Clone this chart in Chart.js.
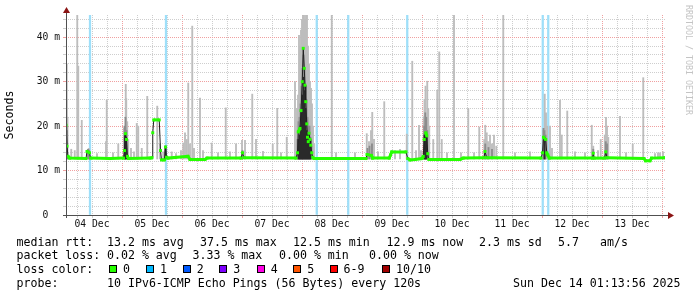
<!DOCTYPE html>
<html><head><meta charset="utf-8">
<script src="https://cdn.jsdelivr.net/npm/chart.js@4/dist/chart.umd.min.js"></script>
<style>
html,body{margin:0;padding:0;background:#fff;}
#wrap{position:relative;width:697px;height:297px;overflow:hidden;background:#fff;}
#c{position:absolute;left:0;top:0;}
.t{position:absolute;font-family:'DejaVu Sans Mono',monospace;font-size:11.6px;line-height:14px;white-space:pre;color:#000;}
.b{position:absolute;width:6px;height:6px;border:1px solid #000;top:265px;}
#wm{position:absolute;left:684px;top:5px;writing-mode:vertical-rl;font-family:'DejaVu Sans Mono',monospace;font-size:8.3px;line-height:9px;color:#c4c4c4;white-space:pre;}
</style></head><body>
<div id="wrap">
<canvas id="c" width="697" height="297"></canvas>
<div id="wm">RRDTOOL / TOBI OETIKER</div>

<span class="t" style="left:16.5px;top:234.5px">median rtt:</span>
<span class="t" style="left:107px;top:234.5px">13.2 ms avg</span>
<span class="t" style="left:200px;top:234.5px">37.5 ms max</span>
<span class="t" style="left:293px;top:234.5px">12.5 ms min</span>
<span class="t" style="left:386.5px;top:234.5px">12.9 ms now</span>
<span class="t" style="left:479px;top:234.5px">2.3 ms sd</span>
<span class="t" style="left:558px;top:234.5px">5.7</span>
<span class="t" style="left:600px;top:234.5px">am/s</span>

<span class="t" style="left:16.5px;top:248.3px">packet loss:</span>
<span class="t" style="left:107px;top:248.3px">0.02 % avg</span>
<span class="t" style="left:192.5px;top:248.3px">3.33 % max</span>
<span class="t" style="left:279px;top:248.3px">0.00 % min</span>
<span class="t" style="left:369px;top:248.3px">0.00 % now</span>

<span class="t" style="left:16.5px;top:262px">loss color:</span>
<span class="b" style="left:109px;background:#26ff00"></span><span class="t" style="left:123px;top:262px">0</span>
<span class="b" style="left:145.7px;background:#00b8ff"></span><span class="t" style="left:160px;top:262px">1</span>
<span class="b" style="left:182.7px;background:#0059ff"></span><span class="t" style="left:196.7px;top:262px">2</span>
<span class="b" style="left:219.3px;background:#7e00ff"></span><span class="t" style="left:233.3px;top:262px">3</span>
<span class="b" style="left:256.7px;background:#ff00e6"></span><span class="t" style="left:270.7px;top:262px">4</span>
<span class="b" style="left:293.3px;background:#ff5500"></span><span class="t" style="left:307.3px;top:262px">5</span>
<span class="b" style="left:330px;background:#ff0000"></span><span class="t" style="left:343.5px;top:262px">6-9</span>
<span class="b" style="left:381.7px;background:#a10000"></span><span class="t" style="left:396px;top:262px">10/10</span>

<span class="t" style="left:16.5px;top:275.8px">probe:</span>
<span class="t" style="left:107px;top:275.8px">10 IPv6-ICMP Echo Pings (56 Bytes) every 120s</span>
<span class="t" style="left:513px;top:275.8px">Sun Dec 14 01:13:56 2025</span>
</div>
<script>
// ---- data (x = hours since 04 Dec 00:00) ----
const dayLabels = ['04 Dec','05 Dec','06 Dec','07 Dec','08 Dec','09 Dec','10 Dec','11 Dec','12 Dec','13 Dec'];
const yTickLabels = ['0','10 m','20 m','30 m','40 m'];
const xMin = 1.6, xMax = 241.2, yMax = 45;
const smokeFloor = 12.6;

const medianHours = [1.6,2.0,2.4,3.0,9.6,10.0,11.0,11.4,19.2,24.6,25.0,25.4,25.8,26.2,26.6,35.2,36.0,36.3,36.7,38.9,39.4,39.8,41.0,41.4,41.8,42.4,50.4,51.2,57.2,58.0,71.6,72.2,72.8,93.6,94.2,94.5,95.2,95.6,96.1,96.5,96.9,97.2,97.5,97.9,98.2,98.5,98.8,99.2,99.5,99.9,100.3,100.8,121.6,122.0,123.8,124.2,130.9,131.4,131.9,137.6,138.3,139.2,141.2,144.0,144.5,144.9,145.5,145.9,146.3,146.7,159.2,160.5,168.8,169.2,169.9,191.6,192.2,192.6,193.5,193.9,194.3,194.9,212.2,212.5,212.9,217.0,217.5,218.0,232.8,233.4,235.2,235.8,241.2];
const medianValues = [20.2,15.5,13.2,12.8,12.7,14.3,14.0,12.8,12.7,12.8,14.5,18.3,17.0,13.2,12.7,12.8,12.9,18.5,21.4,21.4,14.5,12.4,12.4,15.3,13.0,12.8,13.2,12.5,12.5,12.8,12.8,14.0,12.9,12.8,14.0,18.7,19.5,23.5,30.0,37.5,33.0,29.2,25.5,20.5,17.5,16.5,18.4,17.0,15.7,14.0,13.0,12.7,12.7,13.6,13.4,12.8,12.8,13.5,14.2,14.2,12.7,12.4,12.5,12.7,13.2,17.0,18.5,17.8,13.8,12.5,12.5,12.8,12.9,14.3,12.9,12.8,14.0,17.5,17.0,14.0,13.5,12.8,12.8,13.9,12.8,12.8,14.2,12.9,12.7,12.2,12.2,12.8,12.9];

const lightHours = [1.9,2.2,3.7,5.1,6.1,6.5,7.9,10.7,14.0,17.6,17.9,20.4,22.5,24.9,25.5,25.7,26.1,26.5,27.6,28.8,29.9,30.5,31.9,34.1,38.1,39.2,40.5,43.9,45.6,47.6,48.5,49.2,49.9,50.5,51.2,52.1,52.8,55.2,56.4,59.9,62.4,65.5,67.2,69.6,72.0,73.2,76.1,77.6,80.4,84.3,86.1,87.6,89.9,93.2,94.0,94.4,94.8,95.2,95.6,96.0,96.4,96.8,97.2,97.6,98.0,98.4,98.8,99.2,99.6,100.0,100.4,100.8,107.9,109.6,117.2,121.9,122.8,123.6,124.1,124.8,126.4,128.9,133.2,135.2,137.9,140.1,141.6,142.8,143.6,144.7,145.0,145.4,146.1,146.5,146.9,148.5,150.1,150.9,151.9,154.0,156.8,159.6,162.5,164.8,166.9,168.9,169.3,169.9,170.4,171.2,172.0,172.8,173.7,176.5,181.2,187.2,192.5,193.1,193.6,194.1,195.2,196.0,199.2,199.9,202.1,205.2,209.2,211.9,212.5,214.4,215.5,217.1,217.6,218.0,218.5,223.2,225.6,228.3,232.5,237.2,238.4,239.2,240.4];
const lightTops = [34,22,14.8,14.5,45,33.5,21.3,15,13.8,16.5,25.8,14,16,19.5,29.4,26.2,21,17,15,14.2,20.6,20,15,26.7,24.5,16,14.2,14.2,13.8,14.5,16.2,18.5,17,29.7,16,42.5,15,26.3,14.5,16.2,14,24.1,14.2,16,16.8,16.8,27.2,17,14.3,16,24,14,17.5,30,24,27,40.4,38,41.6,44,45,45,44,45,45,38,34,30,28.5,25,20,16,45,14,14,18.3,16.5,19,23.1,17,14.2,25.5,14.5,14.8,18.2,34.6,14.5,20.2,14.5,22.1,26,29,30.1,24,20,17,28.1,36.7,17,14,45,14,24,14,19.8,17,20.2,18.5,16.5,18,16,18,15.5,45,14,14.2,19,27.2,23,20,20,15,25.8,18,23.4,14.2,14,20.2,15.5,14.5,17,18,22,20,17.5,22.2,14,16,30.9,13.8,14,14,14.2];

const midHours = [1.7,2.0,10.4,10.8,25.0,25.4,25.8,41.4,72.2,94.2,94.6,95.0,95.4,95.8,96.2,96.6,97.0,97.4,97.8,98.2,98.6,99.0,99.4,99.8,122.2,123.0,124.0,144.9,145.3,145.7,146.1,169.3,170.6,172.0,192.6,193.0,193.4,212.5,217.5,218.0];
const midTops = [26,19,14.8,14.6,20,22,19,15.5,14.5,17,21,22,25,29,33,36,33,29,26,22,20,20,17.5,15.5,15,15.5,16,20,23,22,19,16,15.2,14.8,19.5,19,18,14.8,16.5,16];

const darkHours = [1.7,25.2,25.6,41.4,94.6,95.0,95.4,95.8,96.2,96.6,97.0,97.4,97.8,98.2,98.6,99.0,99.4,145.0,145.4,145.8,193.0];
const darkTops = [20,18,17.5,15.5,17,18,20,23,27,31,28,24,19,16.5,16.5,17,15.5,18,18.5,18,17.5];

const lossHours = [11.2,41.6,101.9,114.5,138.1,192.3,194.5];

// ---- build ----
const pts = (xs, ys) => xs.map((x, i) => ({x, y: ys[i]}));
const bars = (xs, tops) => xs.map((x, i) => ({x, y: [smokeFloor, tops[i]]}));
const green = '#26ff00';
const minorColor = 'rgb(206,206,206)';
const majorColor = 'rgb(240,160,160)';
const monoFont = "'DejaVu Sans Mono', monospace";

const rrdAxes = {
  id: 'rrdAxes',
  afterDatasetsDraw(chart) {
    const {ctx, chartArea: a} = chart;
    ctx.save();
    ctx.strokeStyle = '#505050';
    ctx.lineWidth = 1;
    ctx.beginPath();
    ctx.moveTo(a.left - 3, a.bottom + 0.5); ctx.lineTo(a.right + 3, a.bottom + 0.5);
    ctx.moveTo(a.left + 0.5, a.bottom + 3); ctx.lineTo(a.left + 0.5, a.top - 2);
    ctx.stroke();
    ctx.fillStyle = '#8b1414';
    ctx.beginPath();
    ctx.moveTo(a.left + 0.5, a.top - 8); ctx.lineTo(a.left - 3, a.top - 2); ctx.lineTo(a.left + 4, a.top - 2); ctx.closePath();
    ctx.fill();
    ctx.beginPath();
    ctx.moveTo(a.right + 9, a.bottom + 0.5); ctx.lineTo(a.right + 3, a.bottom - 3); ctx.lineTo(a.right + 3, a.bottom + 4); ctx.closePath();
    ctx.fill();
    ctx.restore();
  }
};

new Chart(document.getElementById('c'), {
  type: 'bar',
  data: {
    datasets: [
      {type: 'line', label: 'median', data: pts(medianHours, medianValues), borderColor: green, borderWidth: 3,
       pointStyle: 'rect', pointRadius: 2.1, pointBorderWidth: 0, pointBackgroundColor: green, tension: 0, order: 0,
       segment: {borderColor: c => (Math.abs(c.p1.y - c.p0.y) > 1.2 * Math.abs(c.p1.x - c.p0.x) + 2) ? 'rgba(0,0,0,0)' : green}},
      {type: 'line', label: 'median line', data: pts(medianHours, medianValues), borderColor: '#202020', borderWidth: 1, pointRadius: 0, tension: 0, order: 1},
      {type: 'bar', label: 'dark smoke', data: bars(darkHours, darkTops), backgroundColor: '#2a2a2a', barThickness: 1.2, grouped: false, order: 2},
      {type: 'bar', label: 'mid smoke', data: bars(midHours, midTops), backgroundColor: '#8c8c8c', barThickness: 1.2, grouped: false, order: 3},
      {type: 'bar', label: 'light smoke', data: bars(lightHours, lightTops), backgroundColor: '#bdbdbd', barThickness: 1.2, grouped: false, order: 4},
      {type: 'bar', label: 'loss', data: lossHours.map(x => ({x, y: [0, yMax]})), backgroundColor: '#9edff9', barThickness: 1.6, grouped: false, order: 5}
    ]
  },
  options: {
    responsive: false, animation: false, devicePixelRatio: 1, events: [],
    layout: {padding: {left: 0, top: 15, right: 32, bottom: 0}},
    plugins: {legend: {display: false}, tooltip: {enabled: false}},
    scales: {
      x: {
        type: 'linear', min: xMin, max: xMax, offset: false,
        afterFit: s => { s.height = 82; },
        ticks: {stepSize: 6, includeBounds: false, autoSkip: false, maxRotation: 0, minRotation: 0, padding: 1,
                color: '#111', font: {family: monoFont, size: 9.7},
                callback: v => (v % 24 === 12 ? dayLabels[(v - 12) / 24] : '')},
        grid: {offset: false, lineWidth: 1, tickLength: 3,
               color: c => (c.tick && c.tick.value % 24 === 0 ? majorColor : minorColor)},
        border: {display: false, dash: [1, 1]}
      },
      y: {
        min: 0, max: yMax,
        afterFit: s => { s.width = 66; },
        ticks: {stepSize: 2, includeBounds: false, autoSkip: false, padding: 3, color: '#111', font: {family: monoFont, size: 9.7},
                callback: v => (v % 10 === 0 ? (v === 0 ? yTickLabels[0] + '  ' : yTickLabels[v / 10]) : '')},
        grid: {lineWidth: 1, tickLength: 3,
               color: c => (c.tick && c.tick.value % 10 === 0 ? majorColor : minorColor)},
        border: {display: false, dash: [1, 1]},
        title: {display: true, text: 'Seconds', color: '#000', font: {family: monoFont, size: 11.6, lineHeight: 1.2}, padding: {top: 3.5, bottom: 0}}
      }
    }
  },
  plugins: [rrdAxes]
});
</script>
</body></html>
